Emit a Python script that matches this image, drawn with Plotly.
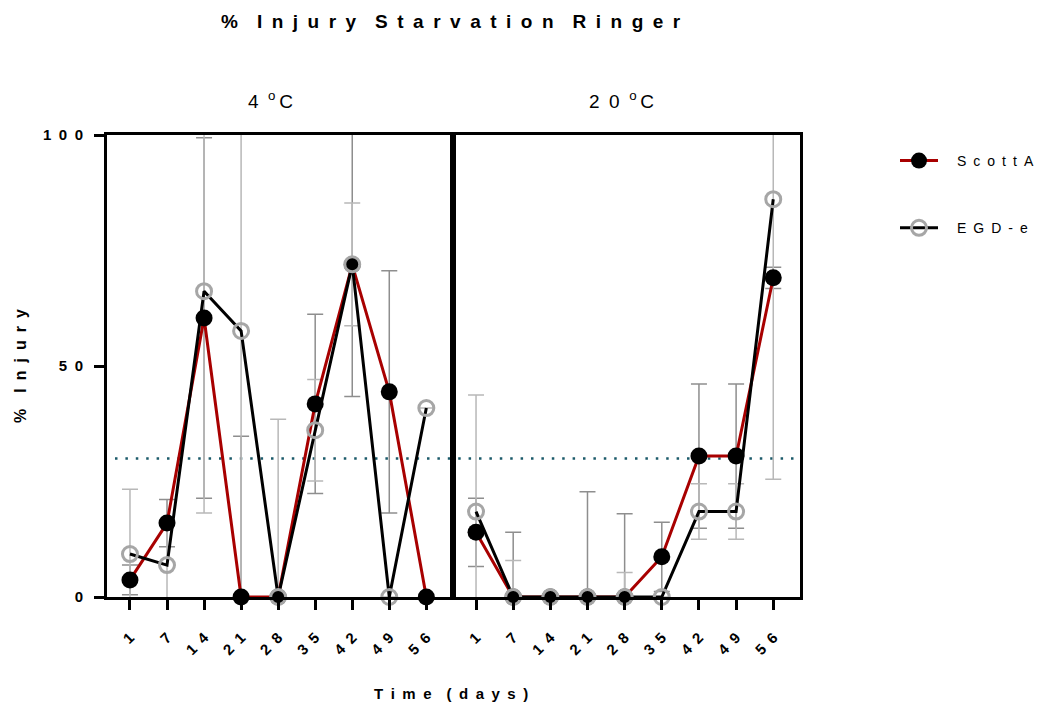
import plotly.graph_objects as go

W, H = 1043, 707

# Sampling days (categorical x axis)
days = ["1", "7", "14", "21", "28", "35", "42", "49", "56"]

# 4 °C : mean % injury and error (SD)
scott_4 = [3.7, 16.0, 60.4, 0, 0, 41.8, 71.9, 44.4, 0]
scott_4_err = [3.2, 5.1, 39.0, 34.8, 0, 19.4, 28.5, 26.2, 0]
egd_4 = [9.3, 6.9, 66.2, 57.6, 0, 36.1, 72.0, 0, 40.9]
egd_4_err = [14.0, 8.9, 48.0, 60.0, 38.5, 11.0, 13.3, 0, 0]

# 20 °C
scott_20 = [14.0, 0, 0, 0, 0, 8.7, 30.5, 30.5, 69.1]
scott_20_err = [7.4, 14.0, 0, 22.8, 18.0, 7.5, 15.6, 15.6, 2.3]
egd_20 = [18.5, 0, 0, 0, 0, 0, 18.5, 18.5, 86.1]
egd_20_err = [25.2, 7.9, 0, 0, 5.3, 0, 6.0, 6.0, 60.6]

threshold = 30

SP = "\u2002"  # en space used for the wide letter spacing


def spaced(s, sep=SP):
    return sep.join(list(s))


def spaced_words(s, sep=SP, word_sep=SP * 2):
    return word_sep.join(sep.join(list(w)) for w in s.split(" "))


FONT = "Arial, Liberation Sans, sans-serif"
RED = "#a80000"
GREY_RING = "#a6a6a6"
ERR_SCOTT = "#8e8e8e"
ERR_EGD = "#b8b8b8"


def px_x(p):
    return p / W


def px_y(p):
    return 1 - p / H


fig = go.Figure()

panels = [
    ("x", "y", scott_4, scott_4_err, egd_4, egd_4_err, True),
    ("x2", "y2", scott_20, scott_20_err, egd_20, egd_20_err, False),
]

for xa, ya, sc, sc_e, eg, eg_e, show in panels:
    # error bars (clipped to the plotting area)
    for vals, errs, col in ((sc, sc_e, ERR_SCOTT), (eg, eg_e, ERR_EGD)):
        fig.add_trace(go.Scatter(
            x=days, y=vals, xaxis=xa, yaxis=ya, mode="markers",
            marker=dict(size=0, color="rgba(0,0,0,0)"),
            error_y=dict(type="data", array=errs, color=col, thickness=1.5, width=8),
            showlegend=False, hoverinfo="skip", cliponaxis=True,
        ))
    fig.add_trace(go.Scatter(
        x=days, y=sc, xaxis=xa, yaxis=ya, mode="lines+markers",
        name=SP * 2 + spaced("ScottA"), legendgroup="scott", showlegend=show,
        line=dict(color=RED, width=3),
        marker=dict(symbol="circle", size=17, color="black", line=dict(width=0)),
        cliponaxis=False,
    ))
    fig.add_trace(go.Scatter(
        x=days, y=eg, xaxis=xa, yaxis=ya, mode="lines+markers",
        name=SP * 2 + spaced("EGD-e"), legendgroup="egd", showlegend=show,
        line=dict(color="black", width=3),
        marker=dict(symbol="circle-open", size=15, color=GREY_RING, line=dict(width=3)),
        cliponaxis=False,
    ))

tick_text = [spaced(d) for d in days]
xcommon = dict(
    type="category", range=[-0.62, 8.72], showline=True, linewidth=3, linecolor="black",
    mirror=True, ticks="outside", ticklen=10, tickwidth=3, tickcolor="black",
    tickangle=-45, tickvals=days, ticktext=tick_text, ticklabelstandoff=13,
    tickfont=dict(family=FONT, size=15, color="black", weight="bold"),
    showgrid=False, zeroline=False, automargin=False,
)
ycommon = dict(
    range=[0, 100], domain=[px_y(597), px_y(135)], showline=True, linewidth=3,
    linecolor="black", mirror=True, showgrid=False, zeroline=False, automargin=False,
)

fig.update_layout(
    width=W, height=H,
    margin=dict(l=0, r=0, t=0, b=0),
    paper_bgcolor="white", plot_bgcolor="white",
    xaxis=dict(domain=[px_x(107), px_x(453)], anchor="y", **xcommon),
    xaxis2=dict(domain=[px_x(453), px_x(800)], anchor="y2", **xcommon),
    yaxis=dict(anchor="x", ticks="outside", ticklen=10, tickwidth=3, tickcolor="black",
               tickvals=[0, 50, 100], ticktext=["0", spaced("50"), spaced("100")],
               ticklabelstandoff=8,
               tickfont=dict(family=FONT, size=15, color="black", weight="bold"),
               **ycommon),
    yaxis2=dict(anchor="x2", matches="y", showticklabels=False, ticks="", **ycommon),
    showlegend=True,
    legend=dict(
        x=px_x(895), y=px_y(145), xanchor="left", yanchor="top",
        font=dict(family=FONT, size=14, color="black"),
        tracegroupgap=46, itemwidth=38, bgcolor="rgba(0,0,0,0)",
    ),
    shapes=[dict(
        type="line", xref="paper", yref="y", x0=px_x(115), x1=px_x(797),
        y0=threshold, y1=threshold, layer="below",
        line=dict(color="#1b5a6a", width=2.5, dash="2.5px,7.9px"),
    )],
    annotations=[
        dict(text=spaced_words("% Injury Starvation Ringer", word_sep=SP * 2),
             x=px_x(451), y=px_y(22),
             xref="paper", yref="paper", showarrow=False, xanchor="center", yanchor="middle",
             font=dict(family=FONT, size=19, color="black", weight="bold")),
        dict(text="4" + SP + "<sup>o</sup>\u2009C", x=px_x(270), y=px_y(100),
             xref="paper", yref="paper", showarrow=False, xanchor="center", yanchor="middle",
             font=dict(family=FONT, size=19, color="black")),
        dict(text="2" + SP + "0" + SP + "<sup>o</sup>\u2009C", x=px_x(621), y=px_y(100),
             xref="paper", yref="paper", showarrow=False, xanchor="center", yanchor="middle",
             font=dict(family=FONT, size=19, color="black")),
        dict(text=spaced_words("Time (days)"), x=px_x(451), y=px_y(693),
             xref="paper", yref="paper", showarrow=False, xanchor="center", yanchor="middle",
             font=dict(family=FONT, size=15, color="black", weight="bold")),
        dict(text=spaced_words("% Injury"), x=px_x(20), y=px_y(366),
             xref="paper", yref="paper", showarrow=False, xanchor="center", yanchor="middle",
             textangle=-90,
             font=dict(family=FONT, size=16, color="black", weight="bold")),
    ],
)

fig.write_html("out.html")
